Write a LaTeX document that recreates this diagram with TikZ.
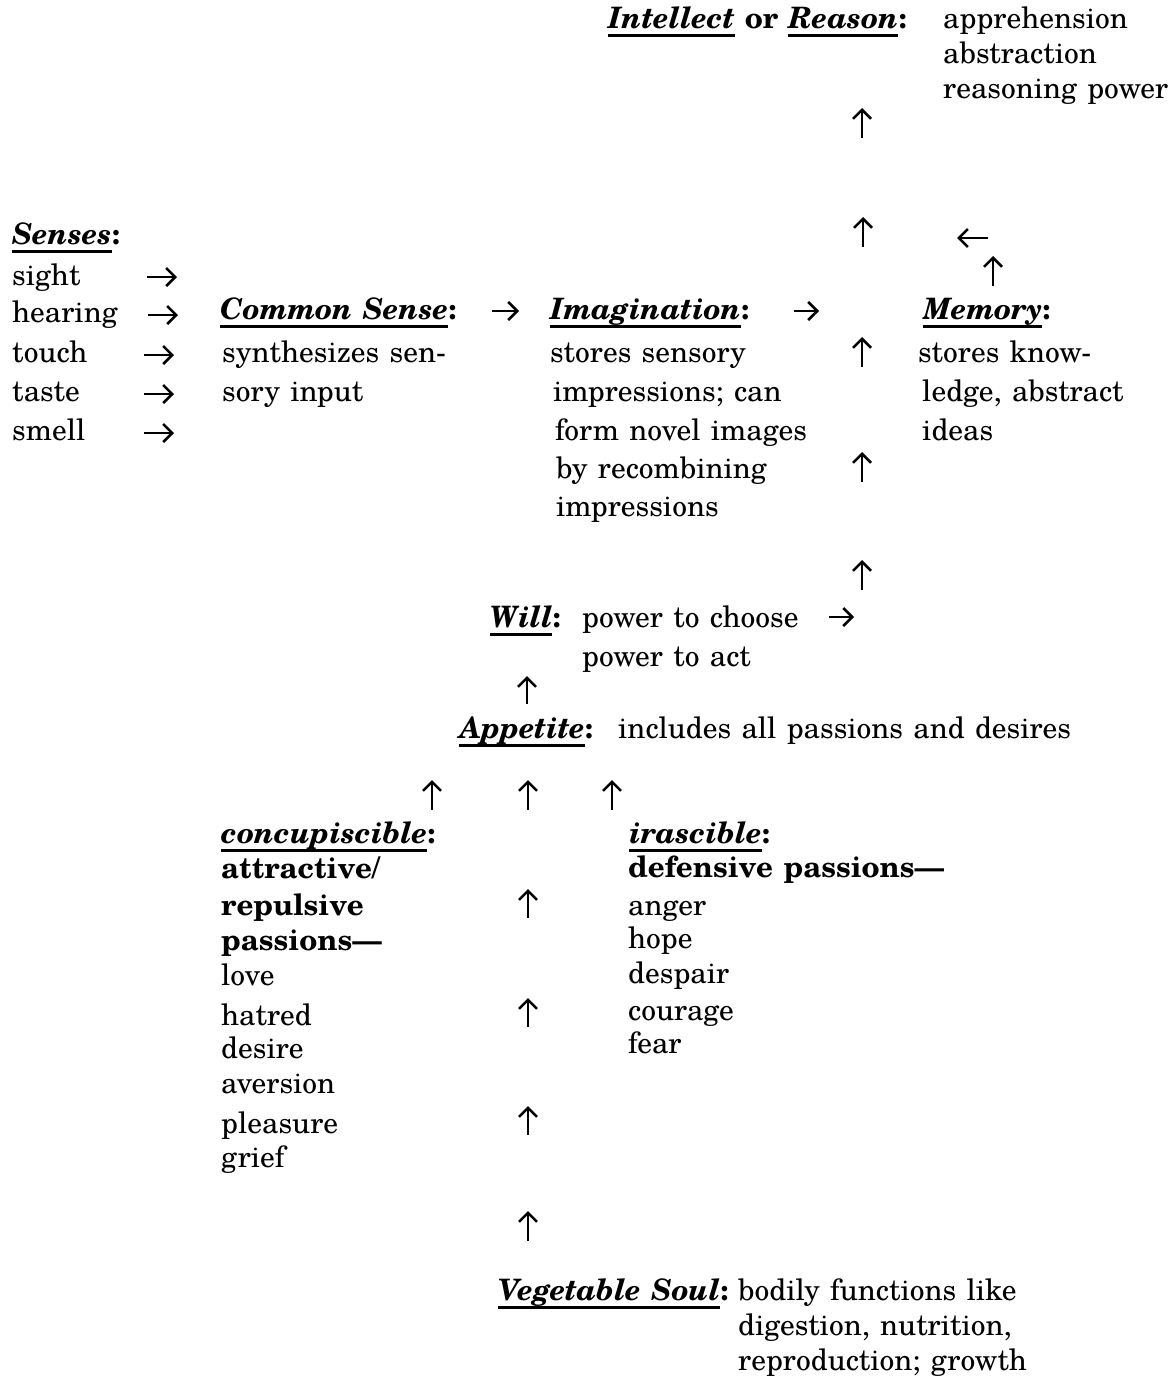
\documentclass[tikz,border=0pt]{standalone}
\usepackage{fontspec}
\setmainfont{TeX Gyre Schola}[WordSpace=1.25]
\usetikzlibrary{arrows.meta}
\newcommand\hd[1]{\setbox0\hbox{\bfseries\itshape #1}\rlap{\rule[-0.3em]{\wd0}{0.085em}}\box0\relax}
\newcommand\arrw[5]{\coordinate (#1s) at (#2,#3); \coordinate (#1e) at (#4,#5); \draw[arr] (#1s) -- (#1e);}
\tikzset{
  txt/.style={anchor=base west, inner sep=0pt, font=\fontsize{29.5}{35}\selectfont},
  arr/.style={line width=2.5pt, -{Straight Barb[length=9pt,width=18pt,line width=2.5pt]}}
}
\begin{document}
\begin{tikzpicture}[x=1pt,y=-1pt]
\useasboundingbox (0,0) rectangle (1170,1387);
% Intellect
\node[txt] (intel) at (608,28) {\hd{Intellect} {\bfseries or} \hd{Reason}{\bfseries :}};
\node[txt] (int1) at (943,28) {apprehension};
\node[txt] (int2) at (943,63) {abstraction};
\node[txt] (int3) at (943,98) {reasoning power};
\arrw{u1}{862}{138}{862}{108}
\arrw{u2}{863}{247}{863}{217}
\arrw{l1}{988}{238}{957}{238}
\arrw{u3}{993}{286}{993}{256}
% Senses
\node[txt] (sen) at (12,244) {\hd{Senses}{\bfseries :}};
\node[txt] (s1) at (12,285) {sight};
\node[txt] (s2) at (12,322) {hearing};
\node[txt] (s3) at (12,362) {touch};
\node[txt] (s4) at (12,401) {taste};
\node[txt] (s5) at (12,440) {smell};
\arrw{r1}{147}{277}{177}{277}
\arrw{r2}{148}{315}{178}{315}
\arrw{r3}{144}{355}{174}{355}
\arrw{r4}{144}{394}{174}{394}
\arrw{r5}{144}{433}{174}{433}
% Common sense
\node[txt] (cs) at (220,319) {\hd{Common Sense}{\bfseries :}};
\node[txt] (cs1) at (222,362) {synthesizes sen-};
\node[txt] (cs2) at (222,401) {sory input};
\arrw{r6}{492}{311}{519}{311}
% Imagination
\node[txt] (im) at (550,319) {\hd{Imagination}{\bfseries :}};
\node[txt] (im1) at (550,362) {stores sensory};
\node[txt] (im2) at (553,401) {impressions; can};
\node[txt] (im3) at (555,440) {form novel images};
\node[txt] (im4) at (556,478) {by recombining};
\node[txt] (im5) at (556,516) {impressions};
\arrw{r7}{794}{311}{819}{311}
\arrw{u4}{862}{367}{862}{337}
\arrw{u5}{862}{482}{862}{452}
\arrw{u6}{862}{590}{862}{560}
% Memory
\node[txt] (me) at (923,319) {\hd{Memory}{\bfseries :}};
\node[txt] (me1) at (918,362) {stores know-};
\node[txt] (me2) at (922,401) {ledge, abstract};
\node[txt] (me3) at (922,440) {ideas};
% Will
\node[txt] (wi) at (490,627) {\hd{Will}{\bfseries :}};
\node[txt] (wi1) at (582,627) {power to choose};
\node[txt] (wi2) at (582,666) {power to act};
\arrw{r8}{829}{617}{854}{617}
\arrw{u7}{527}{704}{527}{676}
% Appetite
\node[txt] (ap) at (459,738) {\hd{Appetite}{\bfseries :}};
\node[txt] (ap1) at (618,738) {includes all passions and desires};
\arrw{u8}{432}{810}{432}{780}
\arrw{u9}{528}{810}{528}{780}
\arrw{u10}{612}{810}{612}{780}
% concupiscible
\node[txt] (co) at (221,843) {\hd{concupiscible}{\bfseries :}};
\node[txt] (co1) at (221,878) {\bfseries attractive/};
\node[txt] (co2) at (221,915) {\bfseries repulsive};
\node[txt] (co3) at (221,950) {\bfseries passions—};
\node[txt] (co4) at (221,985) {love};
\node[txt] (co5) at (221,1025) {hatred};
\node[txt] (co6) at (221,1058) {desire};
\node[txt] (co7) at (221,1093) {aversion};
\node[txt] (co8) at (221,1133) {pleasure};
\node[txt] (co9) at (221,1167) {grief};
% irascible
\node[txt] (ir) at (629,843) {\hd{irascible}{\bfseries :}};
\node[txt] (ir1) at (628,877) {\bfseries defensive passions—};
\node[txt] (ir2) at (628,915) {anger};
\node[txt] (ir3) at (628,948) {hope};
\node[txt] (ir4) at (628,983) {despair};
\node[txt] (ir5) at (628,1020) {courage};
\node[txt] (ir6) at (628,1053) {fear};
\arrw{u11}{528}{918}{528}{889}
\arrw{u12}{528}{1027}{528}{998}
\arrw{u13}{528}{1135}{528}{1106}
\arrw{u14}{528}{1241}{528}{1211}
% Vegetable soul
\node[txt] (ve) at (498,1300) {\hd{Vegetable Soul}{\bfseries :}};
\node[txt] (ve1) at (738,1300) {bodily functions like};
\node[txt] (ve2) at (738,1335) {digestion, nutrition,};
\node[txt] (ve3) at (738,1370) {reproduction; growth};
\end{tikzpicture}
\end{document}
